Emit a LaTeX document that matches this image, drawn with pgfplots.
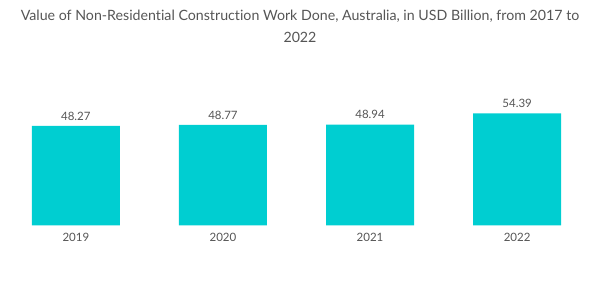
\documentclass[border=0pt]{standalone}
\usepackage{fontspec}
\setmainfont{Lato}[Ligatures=NoCommon]
\usepackage{pgfplots}
\pgfplotsset{compat=1.18}
\definecolor{barc}{HTML}{00CED1}
\definecolor{txt}{HTML}{555555}
\begin{document}
\begin{tikzpicture}
\useasboundingbox (0,0) rectangle (600pt,302pt);
\node[text=txt, font=\fontsize{14.2}{22}\selectfont, align=center] at (300pt,276pt) {Value of Non-Residential Construction Work Done, Australia, in USD Billion, from 2017 to\\2022};
\begin{axis}[
  at={(2.3pt,76.7pt)}, anchor=south west,
  scale only axis, width=588.4pt, height=123.5pt,
  xmin=-0.5, xmax=3.5, ymin=0, ymax=60,
  axis lines=none,
  ybar, bar width=88pt,
  xtick=data,
  nodes near coords,
  every node near coord/.append style={text=txt, yshift=2pt, font=\fontsize{11.5}{13}\selectfont, /pgf/number format/fixed, /pgf/number format/precision=2, /pgf/number format/fixed zerofill, /pgf/number format/assume math mode=true},
  clip=false,
]
\addplot[fill=barc, draw=none] coordinates {(0,48.27) (1,48.77) (2,48.94) (3,54.39)};
\node[text=txt, font=\fontsize{11.5}{13}\selectfont] at (axis cs:0,0) [yshift=-12pt] {2019};
\node[text=txt, font=\fontsize{11.5}{13}\selectfont] at (axis cs:1,0) [yshift=-12pt] {2020};
\node[text=txt, font=\fontsize{11.5}{13}\selectfont] at (axis cs:2,0) [yshift=-12pt] {2021};
\node[text=txt, font=\fontsize{11.5}{13}\selectfont] at (axis cs:3,0) [yshift=-12pt] {2022};
\end{axis}
\end{tikzpicture}
\end{document}
